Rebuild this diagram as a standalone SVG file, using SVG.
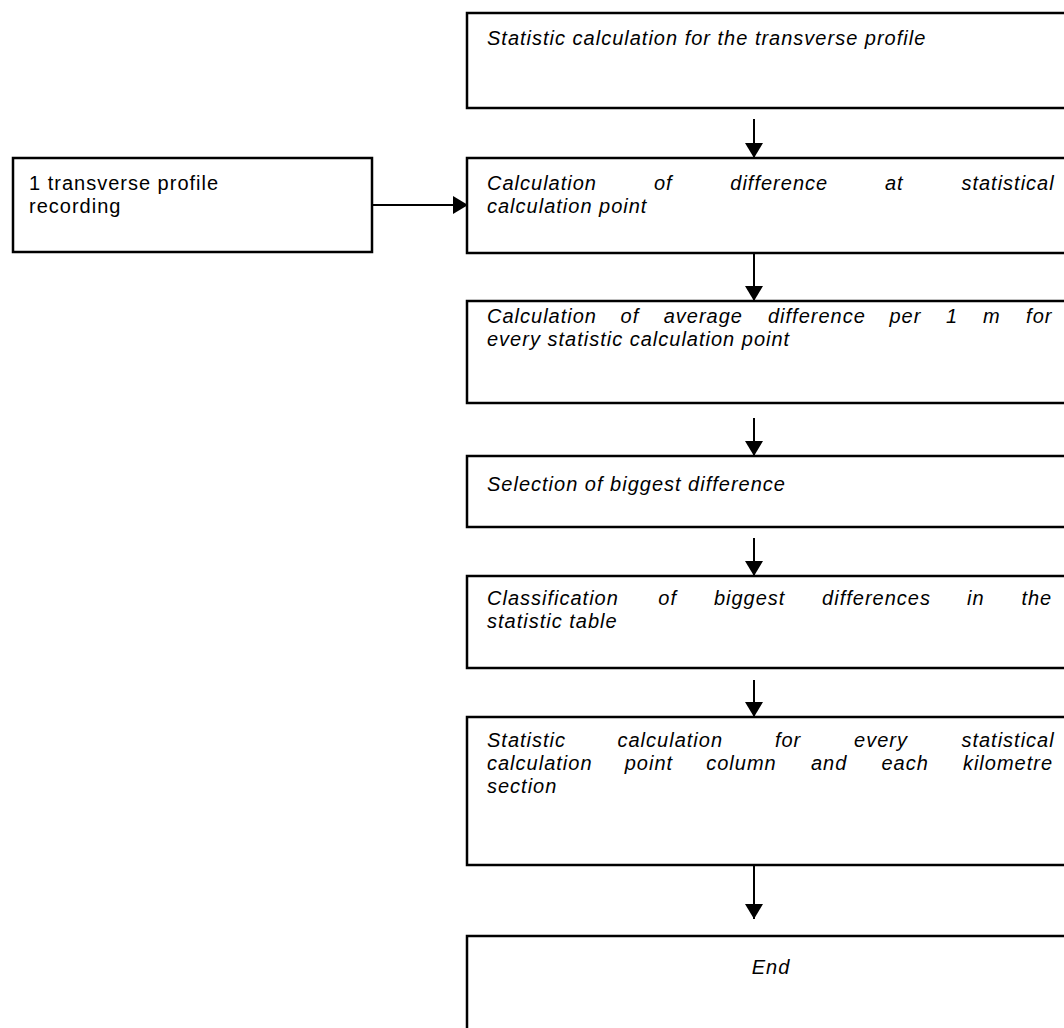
<svg xmlns="http://www.w3.org/2000/svg" width="1064" height="1028" viewBox="0 0 1064 1028">
<style>
.box{fill:#fff;stroke:#000;stroke-width:2.5}
.t{font-family:"Liberation Sans",Arial,sans-serif;font-size:20px;letter-spacing:1px;font-style:italic;fill:#000}
.n{font-family:"Liberation Sans",Arial,sans-serif;font-size:20px;letter-spacing:1px;fill:#000}
.c{stroke:#000;stroke-width:2;fill:none}
</style>
<defs>
<marker id="ah" viewBox="0 0 15 18" refX="15" refY="9" markerWidth="15" markerHeight="18" orient="auto" markerUnits="userSpaceOnUse">
<path d="M0,0 L15,9 L0,18 Z" fill="#000"/>
</marker>
</defs>
<rect width="1064" height="1028" fill="#fff"/>
<g id="n1">
<rect class="box" x="467" y="13" width="608" height="95"/>
<text class="t" x="487" y="45">Statistic calculation for the transverse profile</text>
</g>
<g id="n0">
<rect class="box" x="13" y="158" width="359" height="94"/>
<text class="n" x="29" y="190">1 transverse profile</text>
<text class="n" x="29" y="213">recording</text>
</g>
<g id="n2">
<rect class="box" x="467" y="158" width="608" height="95"/>
<text class="t" y="190"><tspan x="487">Calculation</tspan><tspan x="653.9">of</tspan><tspan x="730.3">difference</tspan><tspan x="885">at</tspan><tspan x="961.4">statistical</tspan></text>
<text class="t" x="487" y="213">calculation point</text>
</g>
<g id="n3">
<rect class="box" x="467" y="301" width="608" height="102"/>
<text class="t" y="323"><tspan x="487">Calculation</tspan><tspan x="620.6">of</tspan><tspan x="663.7">average</tspan><tspan x="768">difference</tspan><tspan x="889.4">per</tspan><tspan x="946">1</tspan><tspan x="983">m</tspan><tspan x="1026.1">for</tspan></text>
<text class="t" x="487" y="346">every statistic calculation point</text>
</g>
<g id="n4">
<rect class="box" x="467" y="456" width="608" height="71"/>
<text class="t" x="487" y="491">Selection of biggest difference</text>
</g>
<g id="n5">
<rect class="box" x="467" y="576" width="608" height="92"/>
<text class="t" y="605"><tspan x="487">Classification</tspan><tspan x="658.3">of</tspan><tspan x="713.9">biggest</tspan><tspan x="822.1">differences</tspan><tspan x="967">in</tspan><tspan x="1021.4">the</tspan></text>
<text class="t" x="487" y="628">statistic table</text>
</g>
<g id="n6">
<rect class="box" x="467" y="717" width="608" height="148"/>
<text class="t" y="747"><tspan x="487">Statistic</tspan><tspan x="617.5">calculation</tspan><tspan x="774.9">for</tspan><tspan x="854.1">every</tspan><tspan x="961.4">statistical</tspan></text>
<text class="t" y="770"><tspan x="487">calculation</tspan><tspan x="624.7">point</tspan><tspan x="706.2">column</tspan><tspan x="810.9">and</tspan><tspan x="881.4">each</tspan><tspan x="962.9">kilometre</tspan></text>
<text class="t" x="487" y="793">section</text>
</g>
<g id="n7">
<rect class="box" x="467" y="936" width="608" height="110"/>
<text class="t" x="771" y="974" text-anchor="middle">End</text>
</g>
<g id="connectors">
<line class="c" x1="754" y1="119" x2="754" y2="158" marker-end="url(#ah)"/>
<line class="c" x1="372" y1="205" x2="468" y2="205" marker-end="url(#ah)"/>
<line class="c" x1="754" y1="253" x2="754" y2="301" marker-end="url(#ah)"/>
<line class="c" x1="754" y1="418" x2="754" y2="456" marker-end="url(#ah)"/>
<line class="c" x1="754" y1="538" x2="754" y2="576" marker-end="url(#ah)"/>
<line class="c" x1="754" y1="680" x2="754" y2="717" marker-end="url(#ah)"/>
<line class="c" x1="754" y1="865" x2="754" y2="919" marker-end="url(#ah)"/>
</g>
</svg>
